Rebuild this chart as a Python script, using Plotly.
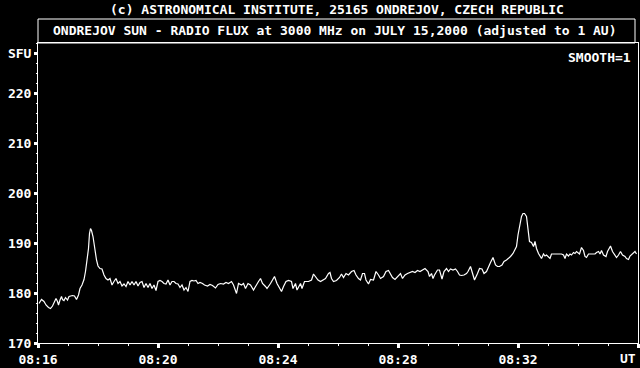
import pandas as pd
import plotly.graph_objects as go

# ---- data ----
seconds_after_0816 = [
    2, 7, 12, 16, 21, 25, 29, 33, 36, 39, 41, 44, 47, 49, 52, 55, 59, 62, 65, 69,
    73, 77, 81, 84, 88, 92, 95, 98, 101, 103, 105, 107, 110, 113, 115, 117, 120, 124, 128, 132,
    136, 140, 144, 148, 152, 156, 160, 164, 168, 172, 176, 180, 184, 188, 192, 196, 200, 204, 208, 212,
    216, 220, 224, 228, 232, 236, 240, 244, 248, 252, 256, 260, 264, 268, 272, 276, 280, 284, 288, 292,
    296, 300, 304, 308, 312, 316, 320, 324,
    329, 333, 339, 344, 349, 355, 360, 365, 371, 376, 381, 387,
    391, 397, 401, 407, 411, 415, 420, 425, 431, 436, 441, 445, 449, 455, 458, 465, 473, 478, 483, 487,
    491, 496, 501, 507, 510, 515, 518, 525, 528, 533, 541, 547, 551, 555, 560, 565, 569, 575, 581,
    584, 587, 591, 597, 603, 607, 611, 616, 621, 627, 632, 636, 641, 645, 649, 653, 656, 661, 665, 671,
    676, 681, 685, 691, 696, 701, 705, 709, 714, 721, 725, 729, 734, 739, 744, 749, 754, 759, 764, 769, 774,
    780, 783, 787, 790, 793, 799, 803, 808, 812, 817, 821, 825, 830, 835, 839, 843, 847, 852, 857, 860,
    865, 869, 873, 879, 883, 888, 892, 897, 901, 905, 910, 915, 919, 923, 928, 932, 937, 941, 945, 950,
    953, 957, 960, 963, 967, 970, 973, 977, 980, 983,
    987, 991, 994, 997, 1001, 1004, 1007, 1011, 1014, 1017, 1021, 1024, 1027, 1037, 1047, 1051, 1054, 1057, 1061, 1064,
    1067, 1071, 1074, 1077, 1083, 1087, 1091, 1094, 1097, 1101, 1107, 1114, 1117, 1121, 1124, 1127, 1131, 1136, 1139, 1143,
    1145, 1149, 1154, 1157, 1161, 1165, 1169, 1174, 1177, 1181, 1184, 1189, 1194, 1197,
]

flux_sfu = [
    177.9, 178.7, 178.3, 177.6, 177.1, 176.9, 177.4, 178.1, 178.9, 178.3, 177.6, 178.6, 179.3, 178.7, 178.5, 179.1, 178.6, 179.3, 179.4, 179.5,
    179.4, 178.7, 179.6, 180.9, 181.6, 182.7, 184.3, 186.3, 188.9, 191.9, 192.9, 192.5, 191.3, 189.3, 187.6, 186.6, 185.4, 184.9, 184.8, 183.6,
    182.9, 182.6, 182.9, 181.6, 182.3, 182.9, 181.9, 182.3, 181.4, 181.8, 181.3, 182.3, 181.6, 182.3, 181.6, 182.3, 181.4, 182.1, 182.3, 181.1,
    181.9, 181.1, 181.9, 180.9, 181.6, 180.5, 182.3, 182.5, 182.3, 181.9, 181.8, 182.6, 181.6, 182.3, 182.3, 181.9, 181.8, 181.1, 181.6, 180.6,
    181.1, 180.3, 182.3, 182.5, 182.4, 182.5, 181.9, 182.1,
    181.9, 181.6, 181.4, 181.7, 181.5, 181.0, 181.7, 181.9, 181.8, 182.1, 181.9, 182.3,
    181.6, 179.9, 181.9, 181.6, 181.9, 180.9, 181.9, 181.6, 180.6, 181.6, 182.3, 182.9, 181.9, 181.3, 180.9, 181.9, 183.3, 181.9, 180.9, 180.3,
    181.3, 182.3, 182.5, 182.3, 180.9, 181.9, 180.6, 181.9, 180.9, 182.3, 182.3, 182.6, 183.8, 183.3, 182.6, 182.3, 182.6, 182.9, 183.9,
    184.1, 182.9, 182.3, 182.5, 183.1, 183.8, 183.1, 183.9, 183.6, 184.3, 184.5, 183.6, 182.9, 182.6, 183.9, 183.9, 182.6, 181.8, 182.7, 182.6,
    184.3, 183.6, 182.9, 183.3, 184.3, 184.5, 183.9, 183.1, 182.7, 183.6, 183.9, 182.9, 183.6, 183.9, 184.1, 184.3, 184.1, 184.5, 184.3, 184.6, 184.9,
    184.3, 183.3, 183.9, 182.9, 183.6, 184.6, 184.6, 182.8, 184.3, 184.9, 184.3, 184.8, 184.6, 184.8, 184.3, 183.6, 183.5, 183.6, 183.9, 184.3,
    185.3, 183.9, 182.6, 183.9, 184.9, 184.8, 183.9, 184.3, 185.3, 186.1, 187.1, 185.6, 185.3, 185.3, 185.6, 186.3, 186.6, 186.9, 187.3, 187.9,
    188.6, 189.3, 191.6, 193.6, 195.3, 195.9, 195.9, 195.3, 192.9, 190.3,
    190.1, 189.3, 190.3, 188.9, 187.9, 187.4, 186.9, 187.8, 187.4, 187.6, 187.3, 186.9, 187.8, 187.8, 187.8, 187.6, 186.9, 187.8, 187.4, 187.8,
    187.6, 188.1, 187.9, 188.3, 187.8, 189.1, 188.5, 187.3, 187.1, 187.8, 187.8, 187.8, 188.1, 188.3, 187.8, 188.5, 187.6, 187.3, 188.3, 188.9,
    189.4, 188.3, 187.6, 187.1, 187.6, 188.3, 187.6, 187.3, 186.9, 186.7, 187.4, 187.9, 188.3, 187.8,
]

start_time = "2000-07-15 08:16:00"
end_time = "2000-07-15 08:36:00"
x_tick_times = ["2000-07-15 08:16", "2000-07-15 08:20", "2000-07-15 08:24",
                "2000-07-15 08:28", "2000-07-15 08:32", "2000-07-15 08:36"]
x_tick_labels = ["08:16", "08:20", "08:24", "08:28", "08:32", ""]
y_tick_values = [170, 180, 190, 200, 210, 220, 228]
y_tick_labels = ["170", "180", "190", "200", "210", "220", "SFU"]

header = "(c) ASTRONOMICAL INSTITUTE, 25165 ONDREJOV, CZECH REPUBLIC"
title = "ONDREJOV SUN - RADIO FLUX at 3000 MHz on JULY 15,2000 (adjusted to 1 AU)"
smooth_label = "SMOOTH=1"
unit_label = "UT"

# ---- figure ----
times = pd.Timestamp(start_time) + pd.to_timedelta(seconds_after_0816, unit="s")

FONT = "DejaVu Sans Mono"
fig = go.Figure()
fig.add_trace(go.Scatter(x=times, y=flux_sfu, mode="lines",
                         line=dict(color="white", width=1.2),
                         hoverinfo="skip", showlegend=False))

fig.update_layout(
    width=640, height=368,
    margin=dict(l=38, r=2, t=43, b=25),
    paper_bgcolor="black", plot_bgcolor="black",
    font=dict(family=FONT, size=13, color="white", weight="bold"),
    showlegend=False,
    xaxis=dict(
        type="date", range=[start_time, end_time],
        tickmode="array", tickvals=x_tick_times, ticktext=x_tick_labels,
        ticks="outside", ticklen=4, tickwidth=3, tickcolor="white",
        showline=True, linecolor="white", linewidth=1, mirror=True,
        showgrid=False, zeroline=False,
        tickfont=dict(family=FONT, size=13, color="white", weight="bold"),
        minor=dict(tickmode="linear", tick0=start_time, dtick=60000,
                   ticks="outside", ticklen=2, tickwidth=1, tickcolor="white",
                   showgrid=False),
    ),
    xaxis2=dict(
        type="date", range=[start_time, end_time], overlaying="x", side="top",
        anchor="y", tickmode="linear", tick0=start_time, dtick=60000,
        ticks="inside", ticklen=2, tickwidth=1, tickcolor="white",
        showticklabels=False, showline=False, showgrid=False, zeroline=False,
    ),
    yaxis=dict(
        range=[170, 230],
        tickmode="array", tickvals=y_tick_values, ticktext=y_tick_labels,
        ticks="outside", ticklen=3, tickwidth=3, tickcolor="white",
        showline=True, linecolor="white", linewidth=1, mirror=True,
        showgrid=False, zeroline=False,
        tickfont=dict(family=FONT, size=13, color="white", weight="bold"),
        minor=dict(tickmode="linear", tick0=170, dtick=2,
                   ticks="outside", ticklen=1, tickwidth=1, tickcolor="white",
                   showgrid=False),
    ),
)

fig.add_shape(type="rect", xref="paper", yref="paper",
              x0=0, x1=0.995, y0=1, y1=1.08,
              line=dict(color="white", width=1), layer="above")

ann_font = dict(family=FONT, size=13, color="white", weight="bold")
fig.add_annotation(text=header, xref="paper", yref="paper", x=0.499, y=1.113,
                   xanchor="center", yanchor="middle", showarrow=False, font=ann_font)
fig.add_annotation(text=title, xref="paper", yref="paper", x=0.495, y=1.04,
                   xanchor="center", yanchor="middle", showarrow=False, font=ann_font)
fig.add_annotation(text=smooth_label, xref="paper", yref="paper", x=0.992, y=0.953,
                   xanchor="right", yanchor="middle", showarrow=False, font=ann_font)
fig.add_annotation(text=unit_label, xref="paper", yref="paper", x=1.0, y=-0.053,
                   xanchor="right", yanchor="middle", showarrow=False, font=ann_font)

fig.write_html("out.html")
